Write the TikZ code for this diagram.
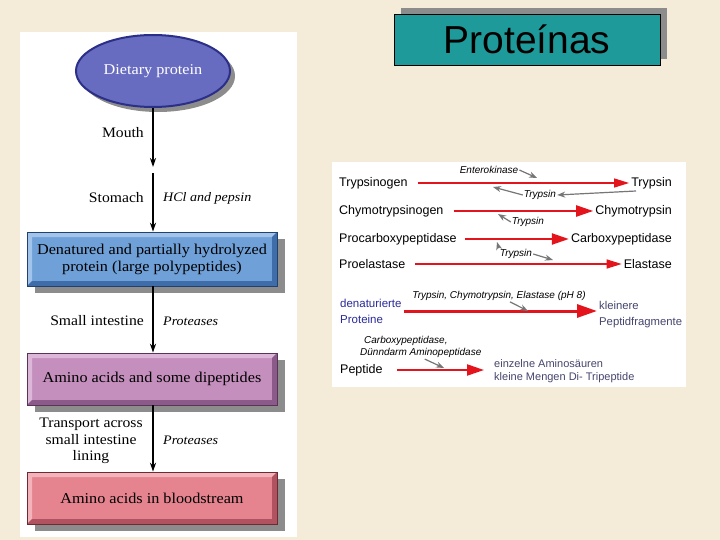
\documentclass[tikz,border=0pt]{standalone}
\usepackage{fontspec}
\setmainfont{Liberation Sans}
\newfontfamily\seriffont[FakeStretch=1.08]{Liberation Serif}
\usetikzlibrary{shapes.geometric,arrows.meta,shadows,calc}
\definecolor{bg}{HTML}{F4ECD9}
\definecolor{teal1}{HTML}{1E9A9A}
\definecolor{shad}{HTML}{8C8C8C}
\definecolor{ellfill}{HTML}{676CC0}
\definecolor{elldraw}{HTML}{2B2F88}
\definecolor{bluefill}{HTML}{6FA0D8}
\definecolor{bluelight}{HTML}{A2C4EA}
\definecolor{bluedark}{HTML}{3F6DAA}
\definecolor{blueline}{HTML}{23416F}
\definecolor{purfill}{HTML}{C48EBD}
\definecolor{purlight}{HTML}{DDB7D9}
\definecolor{purdark}{HTML}{8B5A89}
\definecolor{purline}{HTML}{5A3458}
\definecolor{pinkfill}{HTML}{E5838F}
\definecolor{pinklight}{HTML}{F2B3BB}
\definecolor{pinkdark}{HTML}{B0525F}
\definecolor{pinkline}{HTML}{6E2A34}
\definecolor{arrred}{HTML}{E3141B}
\definecolor{arrgray}{HTML}{767676}
\definecolor{deblue}{HTML}{2A2A9A}
\definecolor{slate}{HTML}{45456E}
\tikzset{
  bevelbox/.style n args={3}{rectangle, minimum width=250pt, minimum height=#1, fill=#2,
    draw=#3, line width=0.6pt, font=\seriffont\fontsize{15}{17}\selectfont, align=center, text=black,
    drop shadow={shadow xshift=8pt, shadow yshift=-7pt, fill=shad, opacity=1}},
  bevel/.style 2 args={path picture={
    \fill[#1] (path picture bounding box.north west) -- (path picture bounding box.north east)
      -- ([xshift=-5pt,yshift=-5pt]path picture bounding box.north east)
      -- ([xshift=5pt,yshift=-5pt]path picture bounding box.north west)
      -- ([xshift=5pt,yshift=5pt]path picture bounding box.south west)
      -- (path picture bounding box.south west) -- cycle;
    \fill[#2] (path picture bounding box.south east) -- (path picture bounding box.south west)
      -- ([xshift=5pt,yshift=5pt]path picture bounding box.south west)
      -- ([xshift=-5pt,yshift=5pt]path picture bounding box.south east)
      -- ([xshift=-5pt,yshift=-5pt]path picture bounding box.north east)
      -- (path picture bounding box.north east) -- cycle;}},
  lbl/.style={font=\seriffont\fontsize{14.5}{16.5}\selectfont, inner sep=1pt},
  lblit/.style={font=\seriffont\itshape\fontsize{13}{15}\selectfont, inner sep=1pt},
  blk/.style={draw=black, line width=1.3pt, -{Stealth[length=9pt,width=6pt]}},
  rt/.style={font=\fontsize{12.5}{14}\selectfont, inner sep=1pt},
  it/.style={font=\itshape\fontsize{10}{12}\selectfont, inner sep=1pt},
  redthin/.style={draw=arrred, line width=1.3pt, -{Triangle[length=15pt,width=9pt]}},
  redmid/.style={draw=arrred, line width=2.2pt, -{Triangle[length=17pt,width=11pt]}},
  redthick/.style={draw=arrred, line width=3pt, -{Triangle[length=20pt,width=13pt]}},
  grayarr/.style={draw=arrgray, line width=1.2pt, -{Stealth[length=8pt,width=6pt]}},
}
\begin{document}
\begin{tikzpicture}[x=1pt,y=-1pt]
\fill[bg] (0,0) rectangle (720,540);
\useasboundingbox (0,0) rectangle (720,540);
% panels
\fill[white] (20,32) rectangle (297,537);
\fill[white] (332,162) rectangle (686,387);
% title
\node[rectangle, minimum width=266pt, minimum height=51pt, fill=teal1, draw=black, line width=0.6pt,
  drop shadow={shadow xshift=7pt, shadow yshift=6pt, fill=shad, opacity=1},
  font=\fontsize{39}{44}\selectfont] (title) at (527,39.5) {Proteínas};
% left flow
\node[ellipse, minimum width=154pt, minimum height=72pt, fill=ellfill, draw=elldraw, line width=2pt,
  drop shadow={shadow xshift=5pt, shadow yshift=-5pt, fill=shad, opacity=1},
  text=white, font=\seriffont\fontsize{15}{17}\selectfont] (diet) at (153,71) {Dietary protein};
\node[bevelbox={54pt}{bluefill}{blueline}, bevel={bluelight}{bluedark}] (b1) at (152,259)
  {Denatured and partially hydrolyzed\\protein (large polypeptides)};
\node[bevelbox={52pt}{purfill}{purline}, bevel={purlight}{purdark}] (b2) at (152,379)
  {Amino acids and some dipeptides};
\node[bevelbox={52pt}{pinkfill}{pinkline}, bevel={pinklight}{pinkdark}] (b3) at (152,498)
  {Amino acids in bloodstream};
\coordinate (mouthend) at (153,167);
\coordinate (stomstart) at (153,173);
\draw[blk] (diet.south) -- (mouthend);
\draw[blk] (stomstart) -- (stomstart |- b1.north);
\draw[blk] (b1.south -| stomstart) -- (stomstart |- b2.north);
\draw[blk] (b2.south -| stomstart) -- (stomstart |- b3.north);
\node[lbl, anchor=east] (mouth) at (145,133) {Mouth};
\node[lbl, anchor=east] (stom) at (145,198) {Stomach};
\node[lblit, anchor=west] (hcl) at (162,198) {HCl and pepsin};
\node[lbl, anchor=east] (si) at (145,321) {Small intestine};
\node[lblit, anchor=west] (prot1) at (162,321) {Proteases};
\node[lbl, align=center] (trans) at (91,441) {Transport across\\small intestine\\lining};
\node[lblit, anchor=west] (prot2) at (162,440) {Proteases};
% right panel: activation
\node[rt, anchor=west] (tg) at (338,183) {Trypsinogen};
\node[rt, anchor=east] (tr) at (673,183) {Trypsin};
\draw[redthin, shorten <=9pt, shorten >=1pt] (tg.east) -- (tr.west);
\node[rt, anchor=west] (ctg) at (338,211) {Chymotrypsinogen};
\node[rt, anchor=east] (ct) at (673,211) {Chymotrypsin};
\draw[redmid, shorten <=9pt, shorten >=1pt] (ctg.east) -- (ct.west);
\node[rt, anchor=west] (pcp) at (338,239) {Procarboxypeptidase};
\node[rt, anchor=east] (cp) at (673,239) {Carboxypeptidase};
\draw[redmid, shorten <=7pt, shorten >=1pt] (pcp.east) -- (cp.west);
\node[rt, anchor=west] (pel) at (338,264) {Proelastase};
\node[rt, anchor=east] (el) at (673,264) {Elastase};
\draw[redthin, shorten <=9pt, shorten >=1pt] (pel.east) -- (el.west);
% enzyme labels
\node[it] (ek) at (489,170) {Enterokinase};
\coordinate (ekt) at (537,178);
\draw[grayarr] (ek.east) -- (ekt);
\node[it] (t1) at (540,195) {Trypsin};
\coordinate (t1s) at (636,191);
\coordinate (t1e) at (493,187);
\draw[grayarr] (t1s) -- (t1.east);
\draw[grayarr] (t1.west) -- (t1e);
\node[it] (t2) at (528,222) {Trypsin};
\coordinate (t2e) at (498,214);
\draw[grayarr] (t2.west) -- (t2e);
\node[it] (t3) at (516,254) {Trypsin};
\coordinate (t3a) at (497,242);
\coordinate (t3b) at (553,260);
\draw[grayarr] (t3.north west) -- (t3a);
\draw[grayarr] (t3.east) -- (t3b);
% digestion
\node[rt, anchor=west, align=left, text=deblue, font=\fontsize{11.5}{16}\selectfont] (dp) at (339,311)
  {denaturierte\\Proteine};
\node[rt, anchor=west, align=left, text=slate, font=\fontsize{11.3}{16}\selectfont] (kp) at (598,315)
  {kleinere\\Peptidfragmente};
\draw[redthick, shorten <=1pt, shorten >=1pt] (dp.east) -- (dp.east -| kp.west);
\node[it] (enz) at (499,296) {Trypsin, Chymotrypsin, Elastase (pH 8)};
\coordinate (enzt) at (528,311);
\draw[grayarr] ([xshift=11pt]enz.south) -- (enzt);
\node[it, anchor=west, align=left, font=\itshape\fontsize{10}{12.5}\selectfont] (cpl) at (359,347)
  {\hspace*{4pt}Carboxypeptidase,\\Dünndarm Aminopeptidase};
\coordinate (cpt) at (444,368);
\draw[grayarr] ([xshift=4pt]cpl.south) -- (cpt);
\node[rt, anchor=west] (pep) at (339,370) {Peptide};
\node[rt, anchor=west, align=left, text=slate, font=\fontsize{11}{13.5}\selectfont] (ea) at (493,371)
  {einzelne Aminosäuren\\kleine Mengen Di- Tripeptide};
\draw[redmid, shorten <=13pt, shorten >=9pt] (pep.east) -- (pep.east -| ea.west);
\end{tikzpicture}
\end{document}
